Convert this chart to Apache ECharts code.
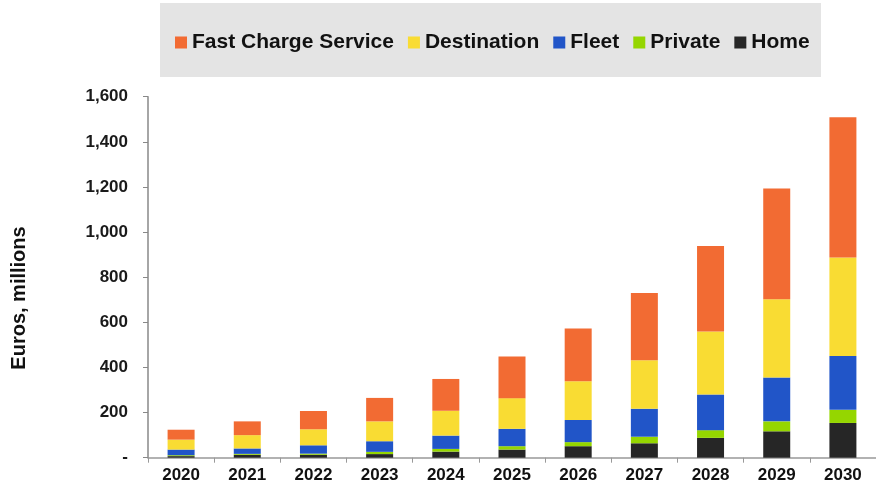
<!DOCTYPE html>
<html>
<head>
<meta charset="utf-8">
<script src="https://cdn.jsdelivr.net/npm/echarts@6/dist/echarts.min.js"></script>
<style>
  html, body { margin: 0; padding: 0; background: #fff; }
  #chart { width: 876px; height: 489px; }
</style>
</head>
<body>
<div id="chart"></div>
<script>
var years = ['2020', '2021', '2022', '2023', '2024', '2025', '2026', '2027', '2028', '2029', '2030'];
// 每个分项（欧元，百万）
var home        = [7, 13, 13, 16, 27, 36, 51, 64, 88, 117, 154];
var privateVals = [4, 4, 5, 10, 12, 15, 18, 29, 34, 44, 58];
var fleet       = [25, 24, 37, 47, 59, 77, 98, 124, 158, 194, 239];
var destination = [44, 59, 71, 88, 110, 136, 172, 215, 279, 347, 436];
var fastCharge  = [44, 61, 81, 104, 141, 184, 234, 298, 379, 491, 622];
var yTicks = [0, 200, 400, 600, 800, 1000, 1200, 1400, 1600];

var legendOrder = ['Fast Charge Service', 'Destination', 'Fleet', 'Private', 'Home'];
var colors = {
  'Home': '#262626',
  'Private': '#95d600',
  'Fleet': '#2155c8',
  'Destination': '#f9dc33',
  'Fast Charge Service': '#f26b33'
};

(function () {
  var myChart = echarts.init(document.getElementById('chart'));
  var font = '"Liberation Sans", Arial, sans-serif';

  function makeSeries(name, data) {
    return {
      name: name,
      type: 'bar',
      stack: 'total',
      barWidth: 27,
      data: data,
      itemStyle: { color: colors[name] }
    };
  }

  var option = {
    animation: false,
    textStyle: { fontFamily: font },
    graphic: [
      {
        type: 'rect',
        shape: { x: 160, y: 3, width: 661, height: 74 },
        style: { fill: '#e4e4e4' },
        z: -1
      },
      {
        type: 'text',
        x: 19,
        y: 298,
        rotation: Math.PI / 2,
        style: {
          text: 'Euros, millions',
          font: 'bold 20px ' + font,
          fill: '#111',
          textAlign: 'center',
          textVerticalAlign: 'middle'
        }
      }
    ],
    legend: {
      data: legendOrder.map(function (n) {
        return { name: n, icon: 'rect' };
      }),
      left: 170,
      top: 27,
      itemWidth: 12,
      itemHeight: 12,
      itemGap: 14,
      textStyle: {
        fontSize: 21,
        fontWeight: 'bold',
        color: '#111',
        fontFamily: font
      }
    },
    grid: {
      left: 148,
      top: 96.7,
      width: 737,
      bottom: 31.3,
      containLabel: false
    },
    xAxis: {
      type: 'category',
      data: years,
      axisLine: { lineStyle: { color: '#999', width: 1.5 } },
      axisTick: { show: true, length: 5, lineStyle: { color: '#999' } },
      axisLabel: {
        color: '#111',
        fontSize: 17,
        fontWeight: 'bold',
        margin: 9
      }
    },
    yAxis: {
      type: 'value',
      min: yTicks[0],
      max: yTicks[yTicks.length - 1],
      interval: 200,
      axisLine: { show: true, lineStyle: { color: '#888', width: 1.5 } },
      axisTick: { show: true, length: 5, lineStyle: { color: '#888' } },
      splitLine: { show: false },
      axisLabel: {
        color: '#1a1a1a',
        fontSize: 17,
        fontWeight: 'bold',
        margin: 20,
        formatter: function (v) {
          if (v === 0) return '-';
          return v.toLocaleString('en-US');
        }
      }
    },
    series: [
      makeSeries('Home', home),
      makeSeries('Private', privateVals),
      makeSeries('Fleet', fleet),
      makeSeries('Destination', destination),
      makeSeries('Fast Charge Service', fastCharge)
    ]
  };

  myChart.setOption(option);
  window.addEventListener('resize', function () {
    myChart.resize();
  });
})();
</script>
</body>
</html>
